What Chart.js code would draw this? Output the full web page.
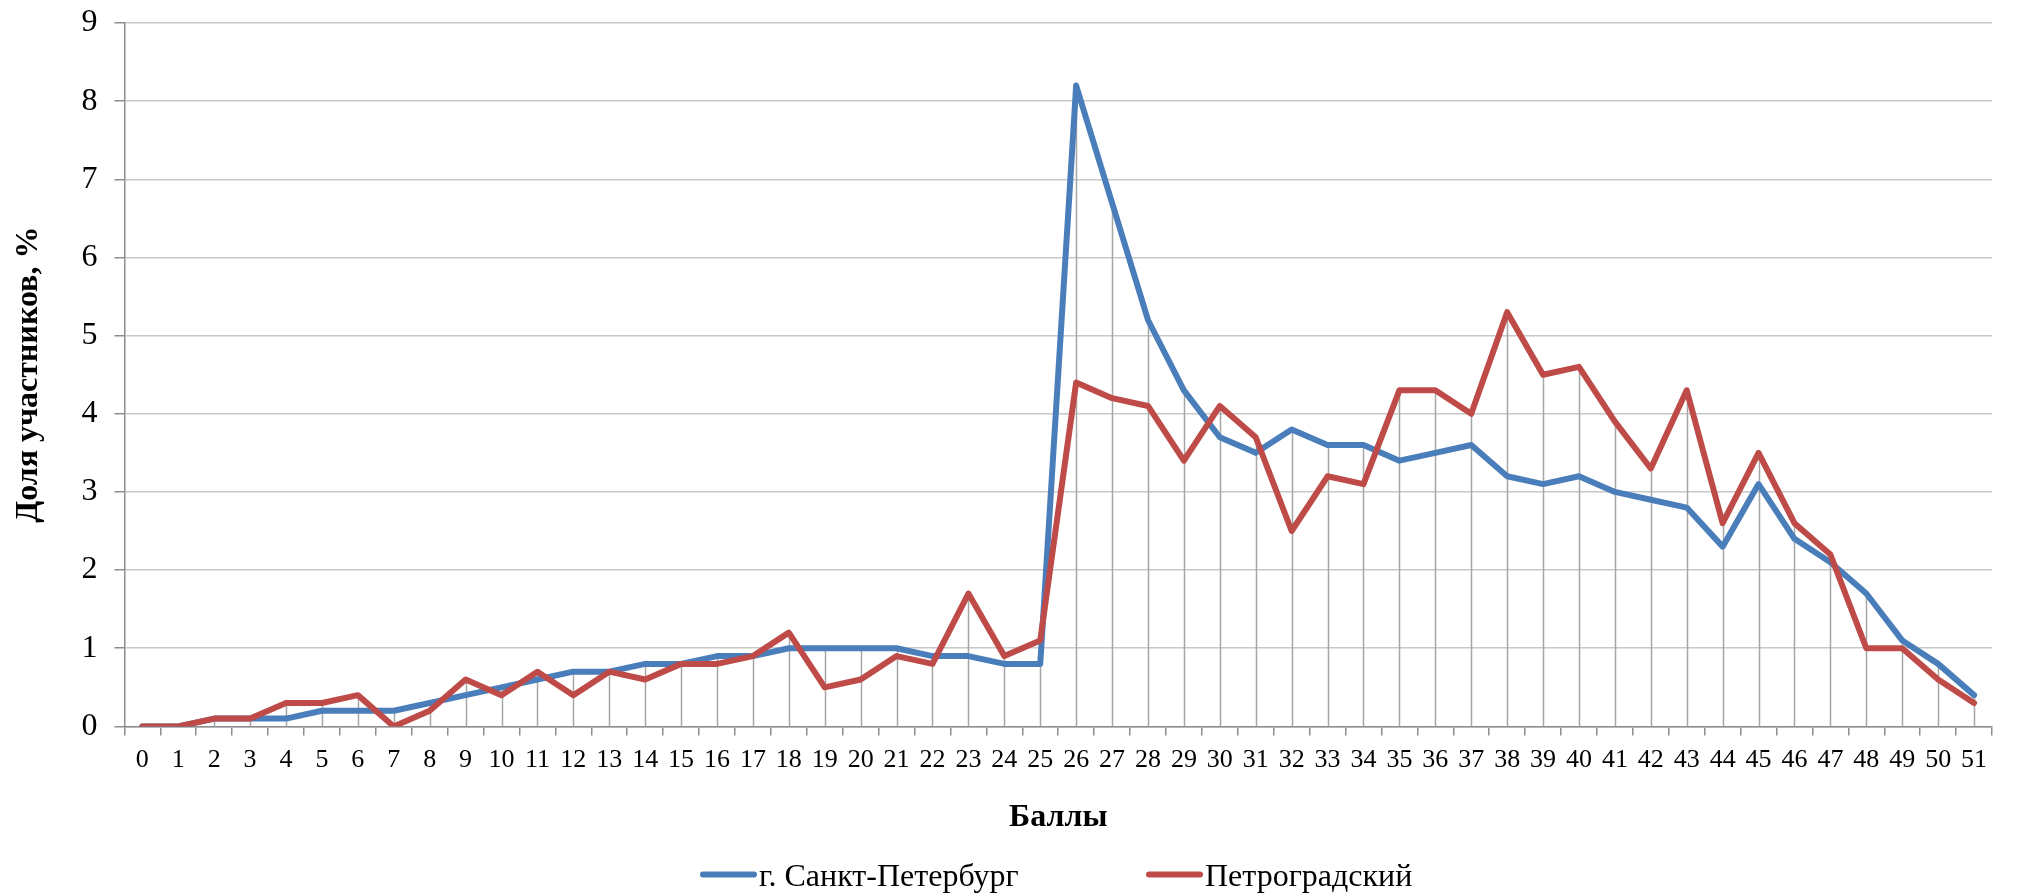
<!DOCTYPE html>
<html>
<head>
<meta charset="utf-8">
<script src="https://cdn.jsdelivr.net/npm/chart.js@4.4.1/dist/chart.umd.min.js"></script>
<style>
body{margin:0;background:#fff;}
canvas{display:block;}
</style>
</head>
<body>
<canvas id="chart" width="2024" height="893"></canvas>
<script>
const scores = ['0','1','2','3','4','5','6','7','8','9','10','11','12','13','14','15','16','17','18','19','20',
  '21','22','23','24','25','26','27','28','29','30','31','32','33','34','35','36','37','38','39','40',
  '41','42','43','44','45','46','47','48','49','50','51'];
const spb = [0,0,0.1,0.1,0.1,0.2,0.2,0.2,0.3,0.4,0.5,0.6,0.7,0.7,0.8,0.8,0.9,0.9,1.0,1.0,1.0,1.0,0.9,0.9,0.8,0.8,
  8.2,6.7,5.2,4.3,3.7,3.5,3.8,3.6,3.6,3.4,3.5,3.6,3.2,3.1,3.2,3.0,2.9,2.8,2.3,3.1,2.4,2.1,1.7,1.1,0.8,0.4];
const petro = [0,0,0.1,0.1,0.3,0.3,0.4,0,0.2,0.6,0.4,0.7,0.4,0.7,0.6,0.8,0.8,0.9,1.2,0.5,0.6,0.9,0.8,1.7,0.9,1.1,
  4.4,4.2,4.1,3.4,4.1,3.7,2.5,3.2,3.1,4.3,4.3,4.0,5.3,4.5,4.6,3.9,3.3,4.3,2.6,3.5,2.6,2.2,1.0,1.0,0.6,0.3];
const seriesNames = ['г. Санкт-Петербург', 'Петроградский'];
const seriesColors = ['#4A7EBB', '#BE4B48'];
const yTitle = 'Доля участников, %';
const xTitle = 'Баллы';

const serif = "'Liberation Serif', serif";

// vertical drop lines from the highest point of each category down to the axis
const dropLines = {
  id: 'dropLines',
  beforeDatasetsDraw(chart){
    const {ctx, scales:{x, y}} = chart;
    const sets = chart.data.datasets;
    ctx.save();
    ctx.strokeStyle = '#a6a6a6';
    ctx.lineWidth = 1.5;
    chart.data.labels.forEach((lab, i) => {
      const top = Math.max(...sets.map(d => d.data[i]));
      if (top <= 0) return;
      const px = Math.round(x.getPixelForValue(i)) + 0.5;
      ctx.beginPath();
      ctx.moveTo(px, y.getPixelForValue(top));
      ctx.lineTo(px, y.getPixelForValue(0));
      ctx.stroke();
    });
    ctx.restore();
  }
};

// wide-spaced legend under the axis title, like the original
const wideLegend = {
  id: 'wideLegend',
  afterDraw(chart){
    const ctx = chart.ctx;
    const starts = [700, 1146];
    ctx.save();
    ctx.font = "32px 'Liberation Serif', serif";
    ctx.textBaseline = 'alphabetic';
    ctx.fillStyle = '#000';
    chart.data.datasets.forEach((d, i) => {
      const x0 = starts[i];
      ctx.strokeStyle = d.borderColor;
      ctx.lineWidth = 6;
      ctx.lineCap = 'round';
      ctx.beginPath();
      ctx.moveTo(x0 + 3, 874.5);
      ctx.lineTo(x0 + 54, 874.5);
      ctx.stroke();
      ctx.fillText(d.label, x0 + 59, 886);
    });
    ctx.restore();
  }
};

new Chart(document.getElementById('chart'), {
  type: 'line',
  data: {
    labels: scores,
    datasets: [
      { label: seriesNames[0], data: spb, borderColor: seriesColors[0], backgroundColor: seriesColors[0],
        borderWidth:6, pointRadius:0, tension:0, order:1, borderJoinStyle:'round', borderCapStyle:'round' },
      { label: seriesNames[1], data: petro, borderColor: seriesColors[1], backgroundColor: seriesColors[1],
        borderWidth:6, pointRadius:0, tension:0, order:0, borderJoinStyle:'round', borderCapStyle:'round' }
    ]
  },
  options: {
    responsive:false,
    animation:false,
    layout:{ padding:{ left:8, right:32, top:23, bottom:43 } },
    plugins:{ legend:{ display:false }, tooltip:{ enabled:false } },
    scales:{
      x:{
        offset:true,
        grid:{ display:true, offset:true, drawOnChartArea:false, drawTicks:true, tickLength:9, tickColor:'#8c8c8c', lineWidth:1.5 },
        border:{ color:'#8c8c8c', width:1.5 },
        ticks:{ color:'#000', padding:9, maxRotation:0, autoSkip:false, font:{ family:serif, size:26 } },
        title:{ display:true, text:xTitle, color:'#000', padding:{ top:14, bottom:13 }, font:{ family:serif, size:32, weight:'bold' } }
      },
      y:{
        min:0, max:9,
        afterFit(s){ s.paddingTop = 0; s.paddingBottom = 0; },
        ticks:{ stepSize:1, color:'#000', padding:17, font:{ family:serif, size:32 } },
        grid:{ color:'#c8c8c8', lineWidth:1.5, tickLength:10, tickColor:'#8c8c8c' },
        border:{ color:'#8c8c8c', width:1.5 },
        title:{ display:true, text:yTitle, color:'#000', padding:{ top:2, bottom:16 }, font:{ family:serif, size:32, weight:'bold' } }
      }
    }
  },
  plugins:[dropLines, wideLegend]
});
</script>
</body>
</html>
